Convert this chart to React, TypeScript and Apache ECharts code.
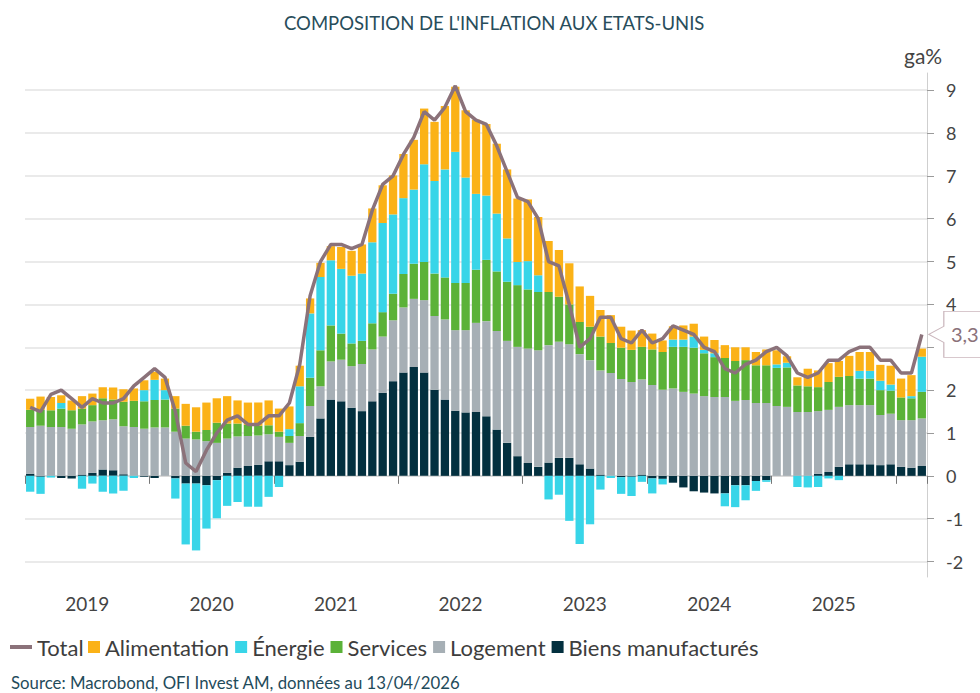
import React, { useEffect, useRef } from 'react';
import * as echarts from 'echarts';

// ---------- DATA ----------
const years = ['2019', '2020', '2021', '2022', '2023', '2024', '2025', '2026'];
const monthsCount = 87; // Jan 2019 -> Mar 2026
const categories: string[] = [];
years.forEach((y) => {
  for (let m = 1; m <= 12; m++) categories.push(`${y}-${String(m).padStart(2, '0')}`);
});
const months = categories.slice(0, monthsCount);

const yearLabels = ['2019', '2020', '2021', '2022', '2023', '2024', '2025'];

const total = [
  1.6, 1.5, 1.9, 2.0, 1.8, 1.6, 1.8, 1.7, 1.7, 1.8, 2.1, 2.3,
  2.5, 2.3, 1.5, 0.3, 0.1, 0.6, 1.0, 1.3, 1.4, 1.2, 1.2, 1.4,
  1.4, 1.7, 2.6, 4.2, 5.0, 5.4, 5.4, 5.3, 5.4, 6.2, 6.8, 7.0,
  7.5, 7.9, 8.5, 8.3, 8.6, 9.1, 8.5, 8.3, 8.2, 7.7, 7.1, 6.5,
  6.4, 6.0, 5.0, 4.9, 4.0, 3.0, 3.2, 3.7, 3.7, 3.2, 3.1, 3.4,
  3.1, 3.2, 3.5, 3.4, 3.3, 3.0, 2.9, 2.5, 2.4, 2.6, 2.7, 2.9,
  3.0, 2.8, 2.4, 2.3, 2.4, 2.7, 2.7, 2.9, 3.0, 3.0, 2.7, 2.7,
  2.4, 2.4, 3.3,
];

const alimentation = [
  0.26, 0.31, 0.31, 0.18, 0.23, 0.29, 0.27, 0.26, 0.28, 0.29, 0.29, 0.23,
  0.19, 0.27, 0.29, 0.51, 0.57, 0.64, 0.57, 0.64, 0.54, 0.52, 0.54, 0.58,
  0.54, 0.53, 0.48, 0.35, 0.33, 0.33, 0.51, 0.58, 0.68, 0.79, 0.88, 0.91,
  1.03, 1.16, 1.30, 1.38, 1.48, 1.52, 1.57, 1.73, 1.67, 1.63, 1.61, 1.48,
  1.44, 1.36, 1.19, 1.09, 0.96, 0.83, 0.72, 0.62, 0.65, 0.49, 0.45, 0.39,
  0.37, 0.27, 0.31, 0.33, 0.30, 0.31, 0.31, 0.30, 0.32, 0.30, 0.31, 0.37,
  0.33, 0.15, 0.19, 0.41, 0.39, 0.44, 0.37, 0.47, 0.44, 0.44, 0.37, 0.44,
  0.44, 0.49, 0.19,
];

const energie = [
  -0.37, -0.40, -0.04, 0.13, 0.0, -0.30, -0.18, -0.37, -0.41, -0.35, -0.05, 0.26,
  0.47, 0.22, -0.47, -1.42, -1.56, -1.01, -0.89, -0.70, -0.61, -0.72, -0.72, -0.49,
  -0.26, 0.16, 0.86, 1.50, 1.71, 1.52, 1.51, 1.58, 1.57, 1.89, 2.08, 1.85,
  1.77, 1.73, 2.28, 2.16, 2.52, 3.06, 2.46, 1.77, 1.50, 1.35, 1.01, 0.54,
  0.66, 0.39, -0.55, -0.44, -1.05, -1.59, -1.13, -0.32, -0.05, -0.39, -0.45, -0.14,
  -0.35, -0.13, 0.17, 0.17, 0.26, 0.08, 0.09, -0.30, -0.51, -0.35, -0.23, -0.04,
  0.08, 0.11, -0.26, -0.27, -0.26, -0.06, -0.10, 0.0, 0.18, 0.18, 0.22, 0.14,
  0.0, 0.05, 0.82,
];

const services = [
  0.40, 0.37, 0.39, 0.43, 0.43, 0.37, 0.38, 0.51, 0.46, 0.57, 0.61, 0.64,
  0.64, 0.65, 0.54, 0.30, 0.18, 0.26, 0.47, 0.35, 0.30, 0.26, 0.23, 0.21,
  0.12, 0.16, 0.30, 0.66, 0.84, 0.84, 0.61, 0.53, 0.54, 0.61, 0.57, 0.62,
  0.78, 0.82, 0.89, 0.99, 0.98, 1.10, 1.10, 1.24, 1.43, 1.39, 1.38, 1.44,
  1.38, 1.36, 1.24, 1.05, 0.93, 0.75, 0.78, 0.79, 0.70, 0.73, 0.75, 0.76,
  0.83, 0.88, 0.97, 1.05, 1.07, 1.00, 0.93, 0.91, 0.93, 0.93, 0.88, 0.88,
  0.89, 0.92, 0.62, 0.60, 0.56, 0.65, 0.70, 0.68, 0.62, 0.62, 0.58, 0.54,
  0.53, 0.51, 0.62,
];

const logement = [
  1.09, 1.17, 1.14, 1.14, 1.10, 1.17, 1.20, 1.15, 1.19, 1.12, 1.14, 1.10,
  1.13, 1.13, 1.03, 0.87, 0.85, 0.81, 0.77, 0.80, 0.73, 0.70, 0.68, 0.63,
  0.57, 0.52, 0.60, 0.72, 0.75, 0.89, 0.97, 0.97, 1.10, 1.21, 1.31, 1.42,
  1.52, 1.59, 1.69, 1.72, 1.87, 1.88, 1.92, 2.08, 2.22, 2.30, 2.38, 2.55,
  2.67, 2.72, 2.74, 2.71, 2.65, 2.57, 2.53, 2.43, 2.40, 2.26, 2.19, 2.22,
  2.12, 2.01, 2.04, 1.96, 1.92, 1.86, 1.84, 1.84, 1.75, 1.77, 1.70, 1.70,
  1.63, 1.61, 1.49, 1.49, 1.46, 1.45, 1.40, 1.38, 1.38, 1.38, 1.17, 1.18,
  1.09, 1.11, 1.11,
];

const biens = [
  0.05, -0.02, 0.0, -0.05, -0.06, 0.03, 0.07, 0.15, 0.13, 0.04, 0.0, -0.02,
  -0.05, 0.0, -0.06, -0.18, -0.18, -0.22, -0.10, 0.07, 0.19, 0.23, 0.26, 0.34,
  0.34, 0.25, 0.33, 0.91, 1.34, 1.78, 1.74, 1.59, 1.51, 1.74, 1.94, 2.21,
  2.41, 2.54, 2.41, 2.01, 1.78, 1.52, 1.48, 1.49, 1.39, 1.08, 0.77, 0.46,
  0.30, 0.21, 0.31, 0.42, 0.42, 0.27, 0.17, 0.03, 0.0, -0.03, -0.02, 0.03,
  -0.06, -0.07, -0.16, -0.27, -0.36, -0.39, -0.41, -0.41, -0.22, -0.22, -0.12, -0.10,
  0.0, 0.0, 0.0, 0.0, 0.05, 0.09, 0.21, 0.27, 0.27, 0.27, 0.25, 0.27,
  0.21, 0.19, 0.23,
];

const seriesNames = {
  total: 'Total',
  alimentation: 'Alimentation',
  energie: 'Énergie',
  services: 'Services',
  logement: 'Logement',
  biens: 'Biens manufacturés',
};

const colors = {
  total: '#8b727a',
  alimentation: '#fbb217',
  energie: '#38d5e8',
  services: '#5bb238',
  logement: '#a6afb5',
  biens: '#03303f',
};

const FONT = 'Lato, "Open Sans", sans-serif';

export default function App() {
  const ref = useRef<HTMLDivElement>(null);

  useEffect(() => {
    if (!ref.current) return;
    const chart = echarts.init(ref.current, undefined, { renderer: 'svg' });
    const lastIdx = total.length - 1;
    const lastVal = total[lastIdx];

    const bar = (name: string, data: number[], color: string) => ({
      name,
      type: 'bar',
      stack: 'contrib',
      data,
      barCategoryGap: '20%',
      itemStyle: { color },
      emphasis: { disabled: true },
      z: 2,
    });

    const option: any = {
      animation: false,
      textStyle: { fontFamily: FONT },
      title: [
        {
          text: "COMPOSITION DE L'INFLATION AUX ETATS-UNIS",
          left: 284,
          top: 13,
          padding: 0,
          textStyle: { fontSize: 18.5, fontWeight: 'normal', color: '#284d5b', fontFamily: FONT },
        },
        {
          text: 'Source: Macrobond, OFI Invest AM, données au 13/04/2026',
          left: 11,
          top: 673,
          padding: 0,
          textStyle: {
            fontSize: 16.8,
            lineHeight: 18,
            fontWeight: 'normal',
            color: '#1f4b5b',
            fontFamily: FONT,
          },
        },
      ],
      legend: [
        {
          data: [seriesNames.total],
          left: 10,
          top: 636,
          padding: 0,
          icon: 'rect',
          itemWidth: 22,
          itemHeight: 4,
          selectedMode: false,
          textStyle: { fontSize: 22, color: '#3d3d3d', fontFamily: FONT },
        },
        {
          data: [
            seriesNames.alimentation,
            seriesNames.energie,
            seriesNames.services,
            seriesNames.logement,
            seriesNames.biens,
          ],
          left: 88,
          top: 636,
          padding: 0,
          icon: 'rect',
          itemWidth: 12,
          itemHeight: 12,
          itemGap: 6,
          selectedMode: false,
          textStyle: { fontSize: 22, color: '#3d3d3d', fontFamily: FONT },
        },
      ],
      grid: { left: 25, right: 53, top: 73, bottom: 116 },
      xAxis: {
        type: 'category',
        data: months,
        boundaryGap: true,
        axisLine: { show: true, lineStyle: { color: '#d4d4d4', width: 1.5 } },
        axisTick: {
          show: true,
          interval: (i: number) => i % 12 === 0,
          length: 8,
          lineStyle: { color: '#777', width: 1 },
        },
        axisLabel: {
          interval: (i: number) => i % 12 === 6 && yearLabels.includes(months[i].slice(0, 4)),
          formatter: (v: string) => v.slice(0, 4),
          fontSize: 19,
          color: '#444',
          margin: 17,
          padding: [0, 10.4, 0, 0],
          fontFamily: FONT,
        },
        splitLine: { show: false },
      },
      yAxis: {
        type: 'value',
        position: 'right',
        min: -2.36,
        max: 9.4,
        splitNumber: 12,
        minInterval: 1,
        maxInterval: 1,
        axisLine: { show: true, lineStyle: { color: '#cfcfcf', width: 1 } },
        axisTick: { show: true, length: 7, lineStyle: { color: '#9a9a9a' } },
        axisLabel: {
          showMinLabel: false,
          showMaxLabel: false,
          fontSize: 18,
          color: '#444',
          margin: 19,
          fontFamily: FONT,
          // the tick label hidden behind the last-value callout is not drawn
          formatter: (v: number) =>
            Math.abs(v - lastVal) < 0.55 ? '' : String(v).replace('.', ','),
        },
        splitLine: {
          show: true,
          showMaxLine: false,
          showMinLine: false,
          lineStyle: { color: '#e3e3e3', width: 1.5 },
        },
      },
      graphic: [
        {
          type: 'text',
          left: 904,
          top: 45,
          style: { text: 'ga%', fontSize: 21, fill: '#444', fontFamily: FONT },
        },
      ],
      series: [
        bar(seriesNames.biens, biens, colors.biens),
        bar(seriesNames.logement, logement, colors.logement),
        bar(seriesNames.services, services, colors.services),
        bar(seriesNames.energie, energie, colors.energie),
        bar(seriesNames.alimentation, alimentation, colors.alimentation),
        {
          name: seriesNames.total,
          type: 'line',
          data: total,
          symbol: 'none',
          z: 5,
          lineStyle: { color: colors.total, width: 3.5 },
          itemStyle: { color: colors.total },
          emphasis: { disabled: true },
          markPoint: {
            silent: true,
            symbol: 'path://M0,23 L15,15 L15,0 L72,0 L72,46 L15,46 L15,31 Z',
            symbolSize: [72, 46],
            symbolOffset: [43, 0],
            symbolKeepAspect: false,
            itemStyle: { color: '#ffffff', borderColor: '#cbb7bd', borderWidth: 1 },
            label: {
              show: true,
              position: 'inside',
              color: '#8b727a',
              fontSize: 20,
              fontFamily: FONT,
              formatter: (p: any) => String(p.value).replace('.', ','),
            },
            data: [{ coord: [months[lastIdx], lastVal], value: lastVal }],
          },
        },
      ],
    };

    chart.setOption(option);
    return () => chart.dispose();
  }, []);

  return (
    <div
      ref={ref}
      style={{ position: 'fixed', left: 0, top: 0, width: 980, height: 693, background: '#fff' }}
    />
  );
}
